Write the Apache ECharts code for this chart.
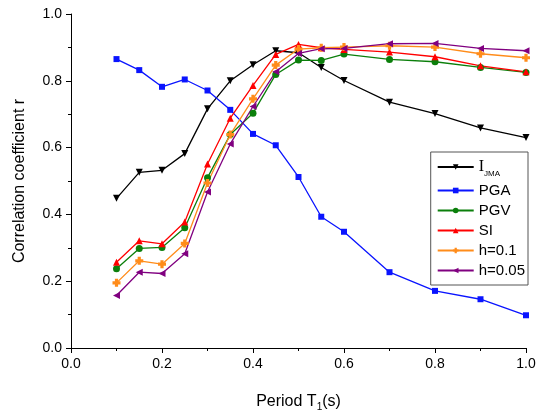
<!DOCTYPE html>
<html>
<head>
<meta charset="utf-8">
<script src="https://cdn.jsdelivr.net/npm/echarts@6/dist/echarts.min.js"></script>
<style>
  html, body { margin: 0; padding: 0; background: #fff; }
  #main { width: 539px; height: 412px; }
</style>
</head>
<body>
<div id="main"></div>
<script>
// periods T1 (s)
var periods = [0.1, 0.15, 0.2, 0.25, 0.3, 0.35, 0.4, 0.45, 0.5, 0.55, 0.6, 0.7, 0.8, 0.9, 1.0];

var ijma = [0.448, 0.526, 0.532, 0.582, 0.716, 0.800, 0.848, 0.890, 0.884, 0.840, 0.801, 0.736, 0.702, 0.659, 0.630];
var pga  = [0.865, 0.832, 0.782, 0.804, 0.771, 0.713, 0.641, 0.607, 0.512, 0.393, 0.348, 0.227, 0.171, 0.146, 0.098];
var pgv  = [0.237, 0.298, 0.301, 0.360, 0.510, 0.639, 0.703, 0.819, 0.862, 0.861, 0.880, 0.864, 0.857, 0.840, 0.825];
var si   = [0.257, 0.321, 0.312, 0.377, 0.551, 0.688, 0.786, 0.879, 0.909, 0.899, 0.894, 0.886, 0.872, 0.845, 0.827];
var h01  = [0.195, 0.261, 0.251, 0.313, 0.494, 0.639, 0.746, 0.847, 0.895, 0.899, 0.901, 0.905, 0.901, 0.881, 0.869];
var h005 = [0.157, 0.227, 0.223, 0.282, 0.467, 0.611, 0.723, 0.827, 0.882, 0.896, 0.897, 0.911, 0.912, 0.897, 0.890];

var font = "'Liberation Sans', Arial, sans-serif";
var plus = "path://M3,0 L7,0 L7,3 L10,3 L10,7 L7,7 L7,10 L3,10 L3,7 L0,7 L0,3 L3,3 Z";

function pairs(vals) {
  return periods.map(function (p, i) { return [p, vals[i]]; });
}

function line(name, vals, color, symbol, rotate, size) {
  return {
    name: name,
    type: "line",
    data: pairs(vals),
    symbol: symbol,
    symbolRotate: rotate,
    symbolSize: size,
    showAllSymbol: true,
    lineStyle: { color: color, width: 1.3 },
    itemStyle: { color: color },
    emphasis: { disabled: true },
    animation: false
  };
}

var axisCommon = {
  type: "value",
  min: 0,
  max: 1,
  interval: 0.2,
  splitLine: { show: false },
  axisLine: { show: true, lineStyle: { color: "#000", width: 1 } },
  axisTick: { show: true, inside: false, length: 5, lineStyle: { color: "#000" } },
  minorTick: { show: true, splitNumber: 2, length: 3, lineStyle: { color: "#000" } },
  axisLabel: {
    color: "#000",
    fontSize: 14,
    fontFamily: font,
    formatter: function (v) { return v.toFixed(1); }
  }
};

var option = {
  backgroundColor: "#fff",
  grid: { left: 71, right: 13, top: 14, bottom: 64, outerBoundsMode: "none", containLabel: false },
  xAxis: Object.assign({}, axisCommon, {
    name: "{a|Period T}{b|1}{a|(s)}",
    nameLocation: "middle",
    nameGap: 44,
    nameTextStyle: {
      rich: {
        a: { fontSize: 16, fontFamily: font, color: "#000" },
        b: { fontSize: 10, fontFamily: font, color: "#000", verticalAlign: "bottom", padding: [10, 0, 0, 0] }
      }
    },
    axisLabel: Object.assign({}, axisCommon.axisLabel, { margin: 9 })
  }),
  yAxis: Object.assign({}, axisCommon, {
    name: "Correlation coefficient r",
    nameLocation: "middle",
    nameGap: 43,
    nameTextStyle: { fontSize: 16, fontFamily: font, color: "#000" },
    axisLabel: Object.assign({}, axisCommon.axisLabel, { margin: 9 })
  }),
  legend: {
    orient: "vertical",
    right: 11,
    top: 152,
    padding: [7, 3, 7, 6],
    itemWidth: 36,
    itemHeight: 7,
    itemGap: 5,
    borderColor: "#555",
    borderWidth: 1,
    selectedMode: false,
    textStyle: {
      fontSize: 15,
      fontFamily: font,
      color: "#000",
      rich: {
        i: { fontSize: 16, fontFamily: "'Liberation Serif', serif", color: "#000" },
        s: { fontSize: 8, fontFamily: font, color: "#000", verticalAlign: "bottom", padding: [14, 0, 0, 0] }
      }
    },
    formatter: function (name) {
      if (name === "IJMA") return "{i|I}{s|JMA}";
      return name;
    },
    data: ["IJMA", "PGA", "PGV", "SI", "h=0.1", "h=0.05"]
  },
  series: [
    line("IJMA", ijma, "#000000", "triangle", 180, 7),
    line("PGA", pga, "#0a14ff", "rect", 0, 6),
    line("PGV", pgv, "#0b7f0b", "circle", 0, 7),
    line("SI", si, "#ff0000", "triangle", 0, 7),
    line("h=0.1", h01, "#ff8c1a", plus, 0, 8),
    line("h=0.05", h005, "#800080", "triangle", 90, 7)
  ]
};

var chart = echarts.init(document.getElementById("main"), null, { renderer: "canvas" });
chart.setOption(option);
</script>
</body>
</html>
